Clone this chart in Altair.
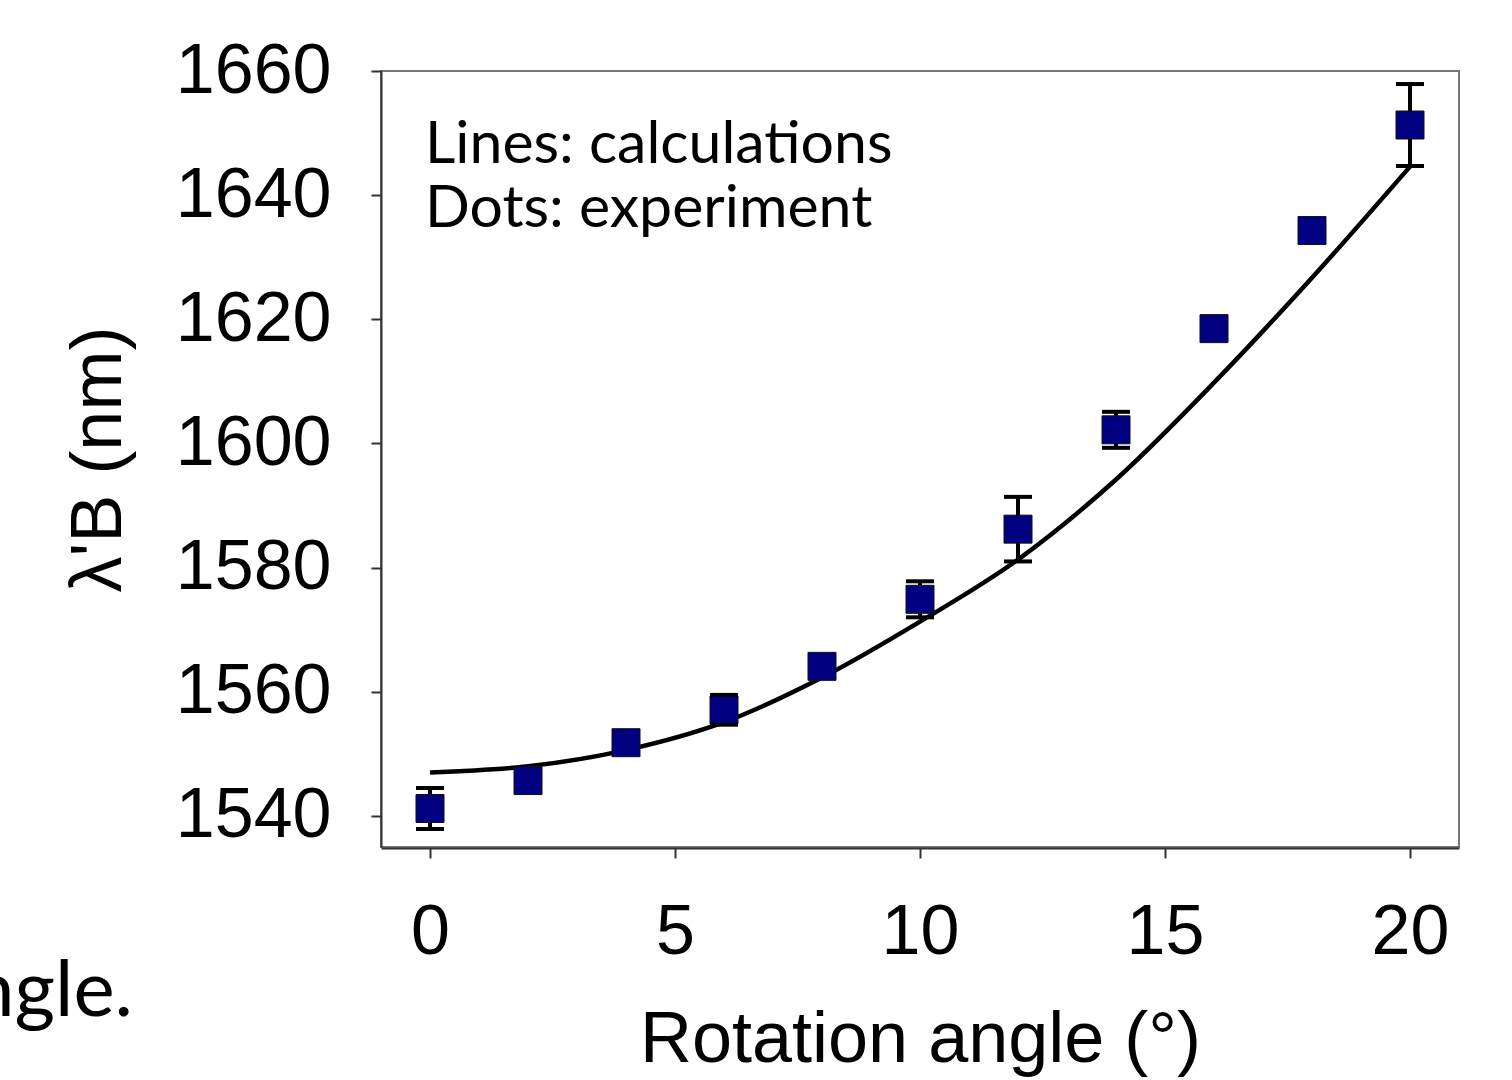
import altair as alt
import pandas as pd

# Experimental data (dots)
exp_angle = [0, 2, 4, 6, 8, 10, 12, 14, 16, 18, 20]
exp_lambda = [1541.2, 1545.7, 1551.8, 1557.1, 1564.1, 1574.9, 1586.2, 1602.2, 1618.5, 1634.3, 1651.3]
exp_err = [3.3, 0, 0, 2.4, 0, 2.9, 5.2, 2.9, 0, 0, 6.6]

# Calculations (line)
calc_angle = [0, 2, 4, 6, 8, 10, 12, 14, 16, 18, 20]
calc_lambda = [1547.0, 1548.0, 1550.6, 1555.1, 1562.3, 1571.3, 1581.3, 1594.2, 1609.8, 1626.7, 1644.6]

x_ticks = [0, 5, 10, 15, 20]
y_ticks = [1540, 1560, 1580, 1600, 1620, 1640, 1660]

exp = pd.DataFrame({"angle": exp_angle, "lam": exp_lambda, "err": exp_err})
exp["lo"] = exp["lam"] - exp["err"]
exp["hi"] = exp["lam"] + exp["err"]
err_df = exp[exp["err"] > 0]
calc = pd.DataFrame({"angle": calc_angle, "lam": calc_lambda})

FONT = "Liberation Sans"

xscale = alt.Scale(domain=[-1, 21], nice=False, zero=False)
yscale = alt.Scale(domain=[1535, 1660], nice=False, zero=False)

xax = alt.Axis(values=x_ticks, format="d", title="Rotation angle (°)", grid=False,
               labelFont=FONT, labelFontSize=70, labelColor="black", labelPadding=40,
               tickSize=10, tickColor="#333", tickWidth=2,
               domainColor="#333", domainWidth=2,
               titleFont=FONT, titleFontSize=72, titleFontWeight="normal", titleColor="black",
               titlePadding=37, labelFlush=False, offset=1)
yax = alt.Axis(values=y_ticks, format="d", title="λ'B (nm)", grid=False,
               labelFont=FONT, labelFontSize=70, labelColor="black", labelPadding=40,
               tickSize=10, tickColor="#333", tickWidth=2,
               domainColor="#333", domainWidth=2,
               titleFont=FONT, titleFontSize=72, titleFontWeight="normal", titleColor="black",
               titlePadding=46, labelFlush=False)

line = alt.Chart(calc).mark_line(color="black", strokeWidth=4.5, interpolate="monotone").encode(
    x=alt.X("angle:Q", scale=xscale, axis=xax),
    y=alt.Y("lam:Q", scale=yscale, axis=yax),
)

rules = alt.Chart(err_df).mark_rule(color="black", strokeWidth=4).encode(
    x=alt.X("angle:Q", scale=xscale),
    y=alt.Y("lo:Q", scale=yscale),
    y2="hi:Q",
)

caps_lo = alt.Chart(err_df).mark_tick(color="black", thickness=4, size=28, orient="horizontal", opacity=1).encode(
    x=alt.X("angle:Q", scale=xscale),
    y=alt.Y("lo:Q", scale=yscale),
)
caps_hi = alt.Chart(err_df).mark_tick(color="black", thickness=4, size=28, orient="horizontal", opacity=1).encode(
    x=alt.X("angle:Q", scale=xscale),
    y=alt.Y("hi:Q", scale=yscale),
)

squares = alt.Chart(exp).mark_square(size=784, filled=True, color="#000080", stroke="#111", strokeWidth=1, opacity=1).encode(
    x=alt.X("angle:Q", scale=xscale),
    y=alt.Y("lam:Q", scale=yscale),
)

note = alt.Chart(pd.DataFrame({"t": ["Lines: calculations\nDots: experiment"]})).mark_text(
    font="Lato", fontSize=59, align="left", baseline="alphabetic", lineBreak="\n", lineHeight=64, color="black"
).encode(x=alt.value(44), y=alt.value(92), text="t:N")

caption = alt.Chart(pd.DataFrame({"t": ["angle."]})).mark_text(
    font="Lato", fontSize=78, align="right", baseline="alphabetic", color="black"
).encode(x=alt.value(-248), y=alt.value(945), text="t:N")

chart = alt.layer(line, rules, squares, caps_lo, caps_hi, note, caption).properties(
    width=1078, height=776,
    autosize=alt.AutoSizeParams(type="none"),
    padding={"left": 381, "top": 71, "right": 53, "bottom": 233},
    background="white",
).configure_view(stroke="#777", strokeWidth=2)

chart.save("out.html", embed_options={"renderer": "svg", "actions": False})
